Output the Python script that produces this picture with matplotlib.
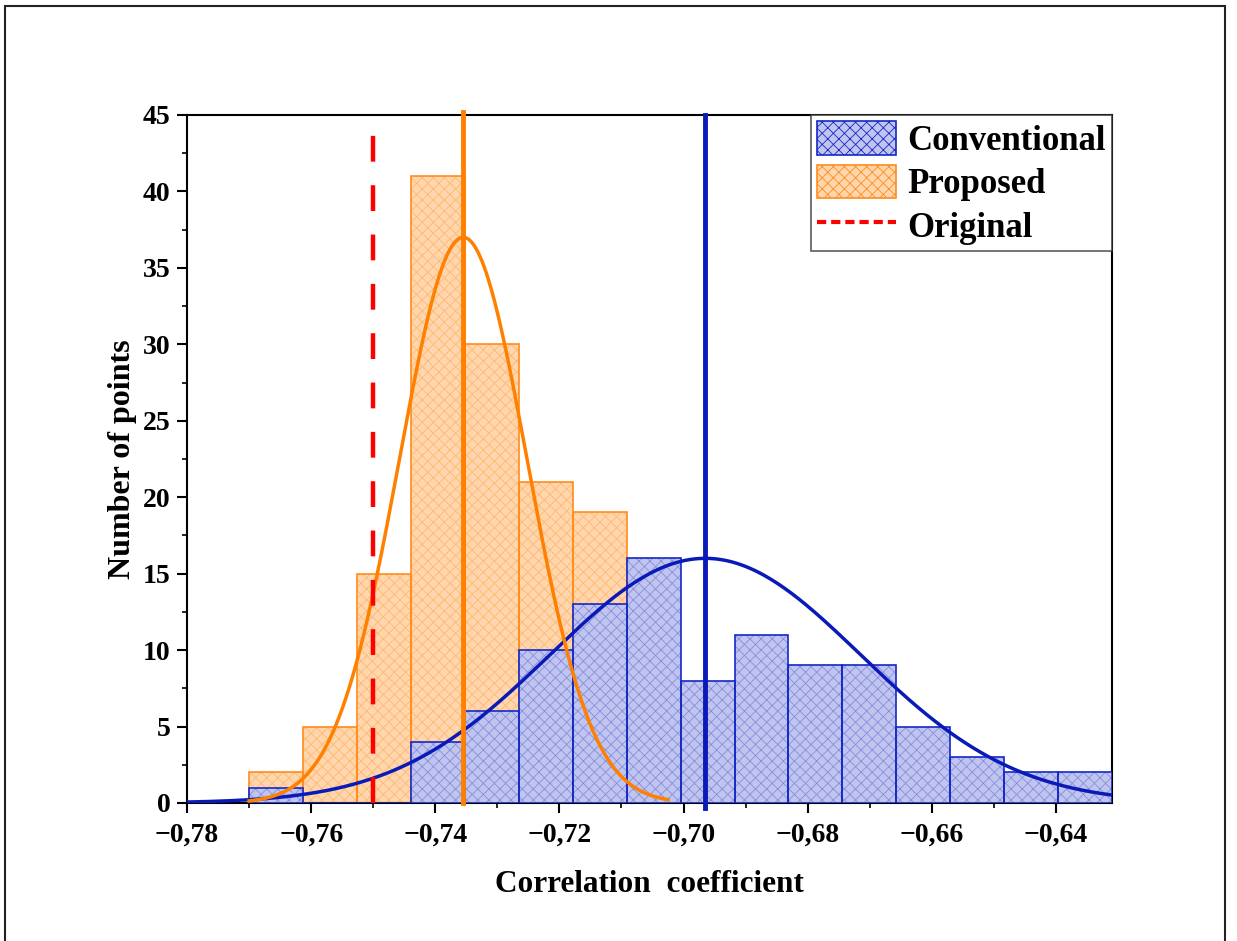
import numpy as np
import matplotlib
matplotlib.use("Agg")
import matplotlib.pyplot as plt
from matplotlib.patches import Patch, Rectangle
from matplotlib.lines import Line2D
from matplotlib.ticker import MultipleLocator, FuncFormatter

# ---- data ----
bin_start = -0.770
bin_width = 0.00869
conventional_counts = [1, 0, 0, 4, 6, 10, 13, 16, 8, 11, 9, 9, 5, 3, 2, 2]
proposed_counts = [2, 5, 15, 41, 30, 21, 19, 0, 0, 0, 0, 0, 0, 0, 0, 0]

# normal fit parameters (mean, sigma, peak height, curve range)
conv_mean, conv_sigma, conv_peak = -0.6965, 0.0250, 16.0
conv_range = (-0.780, -0.631)
prop_mean, prop_sigma, prop_peak = -0.7355, 0.0103, 37.0
prop_range = (-0.770, -0.7025)
original_value = -0.750

x_ticks = [-0.78, -0.76, -0.74, -0.72, -0.70, -0.68, -0.66, -0.64]
y_ticks = [0, 5, 10, 15, 20, 25, 30, 35, 40, 45]

# ---- style ----
plt.rcParams['font.family'] = ['Liberation Serif', 'DejaVu Serif']
plt.rcParams['font.weight'] = 'bold'
plt.rcParams['hatch.linewidth'] = 0.6

blue_edge = '#1428c8'
blue_fill = '#c0c4ee'
blue_hatch = '#8490de'
blue_line = '#0a1ab8'
orange_edge = '#ff8c1a'
orange_fill = '#ffd6ad'
orange_hatch = '#ffb870'
orange_line = '#ff8000'

fig = plt.figure(figsize=(12.37, 9.41), dpi=100)
ax = fig.add_axes([0.1512, 0.1467, 0.899 - 0.1512, 0.8778 - 0.1467])

edges = bin_start + bin_width * np.arange(len(conventional_counts))

# proposed bars
ax.bar(edges, proposed_counts, width=bin_width, align='edge', color=orange_fill,
       edgecolor=orange_hatch, hatch='xxx', linewidth=0, zorder=2)
ax.bar(edges, proposed_counts, width=bin_width, align='edge', fill=False,
       edgecolor=orange_edge, linewidth=1.2, zorder=2.1)
# conventional bars
ax.bar(edges, conventional_counts, width=bin_width, align='edge', color=blue_fill,
       edgecolor=blue_hatch, hatch='xxx', linewidth=0, zorder=3)
ax.bar(edges, conventional_counts, width=bin_width, align='edge', fill=False,
       edgecolor=blue_edge, linewidth=1.2, zorder=3.1)

# fitted curves
xc = np.linspace(*conv_range, 400)
ax.plot(xc, conv_peak * np.exp(-(xc - conv_mean) ** 2 / (2 * conv_sigma ** 2)),
        color=blue_line, lw=2.5, zorder=5)
xp = np.linspace(*prop_range, 400)
ax.plot(xp, prop_peak * np.exp(-(xp - prop_mean) ** 2 / (2 * prop_sigma ** 2)),
        color=orange_line, lw=2.5, zorder=5)

# vertical lines
ax.plot([prop_mean, prop_mean], [0, 45.2], color=orange_line, lw=3.5, zorder=6, clip_on=False)
ax.plot([conv_mean, conv_mean], [-0.3, 45], color=blue_line, lw=3.5, zorder=6, clip_on=False)
ax.plot([original_value, original_value], [0, 44.5], color='#ff0000', lw=3.2,
        dashes=(5.8, 5.3), zorder=6)

ax.set_xlim(-0.780, bin_start + bin_width * len(conventional_counts))
ax.set_ylim(0, 45)
ax.set_xticks(x_ticks)
ax.set_yticks(y_ticks)
ax.xaxis.set_minor_locator(MultipleLocator(0.01))
ax.yaxis.set_minor_locator(MultipleLocator(2.5))
ax.xaxis.set_major_formatter(FuncFormatter(lambda v, p: f"{v:.2f}".replace('.', ',').replace('-', '\u2212')))
ax.tick_params(axis='both', which='major', direction='out', length=7, width=1.5, labelsize=20)
ax.tick_params(axis='x', which='major', pad=7)
ax.tick_params(axis='y', which='major', pad=5)
ax.tick_params(axis='both', which='minor', direction='out', length=3.5, width=1.2)
ax.tick_params(top=False, right=False, which='both')
for lab in ax.get_xticklabels() + ax.get_yticklabels():
    lab.set_fontweight('bold')
for s in ax.spines.values():
    s.set_linewidth(1.5)

ax.set_xlabel('Correlation  coefficient', fontsize=22.5, fontweight='bold', labelpad=16)
ax.set_ylabel('Number of points', fontsize=23, fontweight='bold', labelpad=4)

handles = [
    Patch(facecolor=blue_fill, edgecolor=blue_edge, hatch='xxx', linewidth=1.2),
    Patch(facecolor=orange_fill, edgecolor=orange_edge, hatch='xxx', linewidth=1.2),
    Line2D([0], [0], color='#ff0000', lw=3, dashes=(2.2, 1.2)),
]
leg = ax.legend(handles, ['Conventional', 'Proposed', 'Original'], loc='upper right',
                prop={'weight': 'bold', 'size': 25}, frameon=True, fancybox=False,
                borderaxespad=0, handlelength=2.28, handleheight=1.1, labelspacing=0.2,
                borderpad=0.18, handletextpad=0.32)
leg.get_frame().set_edgecolor('#333333')
leg.get_frame().set_linewidth(1.2)
leg.set_zorder(10)

# figure border
fig.patches.append(Rectangle((0.004, -0.01), 0.986, 1.004, transform=fig.transFigure,
                             fill=False, edgecolor='#222222', lw=1.5))

fig.savefig('out.png', dpi=100)
